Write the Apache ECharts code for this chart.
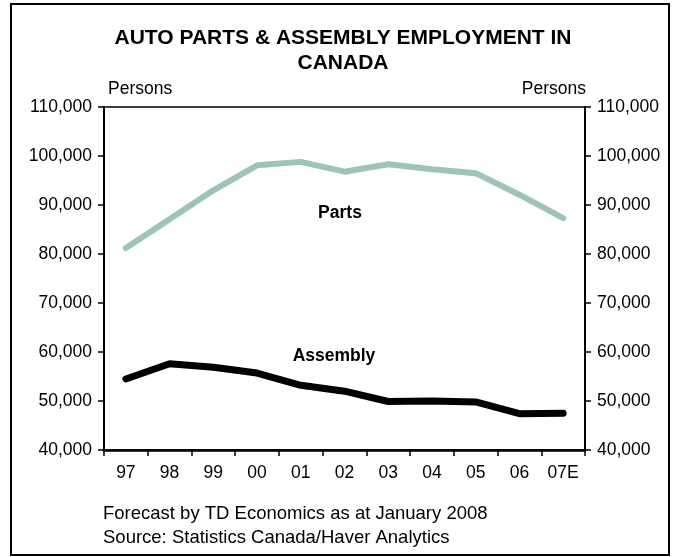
<!DOCTYPE html>
<html>
<head>
<meta charset="utf-8">
<script src="https://cdn.jsdelivr.net/npm/echarts@6/dist/echarts.min.js"></script>
<style>
html,body{margin:0;padding:0;background:#fff;}
#c{width:680px;height:557px;}
</style>
</head>
<body>
<div id="c"></div>
<script>
var categories = ['97','98','99','00','01','02','03','04','05','06','07E'];
var parts = [81200, 87100, 93000, 98100, 98800, 96800, 98300, 97300, 96500, 92100, 87300];
var assembly = [54500, 57600, 56900, 55700, 53200, 52000, 49900, 50000, 49800, 47400, 47500];
var yTicks = [40000, 110000, 10000];
var titleLines = ['AUTO PARTS & ASSEMBLY EMPLOYMENT IN', 'CANADA'];
var footer = ['Forecast by TD Economics as at January 2008', 'Source: Statistics Canada/Haver Analytics'];

var FONT = 'Liberation Sans, Arial, sans-serif';
function fmt(v){ return String(v).replace(/\B(?=(\d{3})+(?!\d))/g, ','); }

var chart = echarts.init(document.getElementById('c'), null, {renderer:'canvas'});
var yBase = {
  type: 'value', min: yTicks[0], max: yTicks[1], interval: yTicks[2],
  axisLine: {show: true, lineStyle: {color: '#000', width: 2}},
  axisTick: {show: true, inside: false, length: 6, lineStyle: {color: '#000', width: 1.5}},
  axisLabel: {formatter: fmt, color: '#000', fontFamily: FONT, fontSize: 17.5, margin: 12},
  splitLine: {show: false}
};
chart.setOption({
  animation: false,
  backgroundColor: '#fff',
  grid: {left: 104, right: 95, top: 107, bottom: 107, show: true, borderColor: '#000', borderWidth: 1.5, containLabel: false},
  xAxis: {
    type: 'category', data: categories, boundaryGap: true,
    axisLine: {lineStyle: {color: '#000', width: 2.5}},
    axisTick: {show: true, length: 6, lineStyle: {color: '#000', width: 1.5}},
    axisLabel: {color: '#000', fontFamily: FONT, fontSize: 17.5, margin: 14}
  },
  yAxis: [
    Object.assign({}, yBase, {position: 'left'}),
    Object.assign({}, yBase, {position: 'right'})
  ],
  series: [
    {type: 'line', name: 'Parts', data: parts, yAxisIndex: 0, symbol: 'none',
     lineStyle: {color: '#9dc4bb', width: 6, cap: 'round', join: 'round'}},
    {type: 'line', name: 'Assembly', data: assembly, yAxisIndex: 0, symbol: 'none',
     lineStyle: {color: '#000', width: 7, cap: 'round', join: 'round'}}
  ],
  graphic: [
    {type: 'rect', shape: {x: 11, y: 4, width: 658, height: 551}, style: {fill: 'none', stroke: '#000', lineWidth: 2}, silent: true},
    {type: 'text', x: 343, y: 38, style: {text: titleLines[0], font: 'bold 21px ' + FONT, fill: '#000', align: 'center', verticalAlign: 'middle'}},
    {type: 'text', x: 343, y: 63, style: {text: titleLines[1], font: 'bold 21px ' + FONT, fill: '#000', align: 'center', verticalAlign: 'middle'}},
    {type: 'text', x: 108, y: 89, style: {text: 'Persons', font: '17.5px ' + FONT, fill: '#000', align: 'left', verticalAlign: 'middle'}},
    {type: 'text', x: 586, y: 89, style: {text: 'Persons', font: '17.5px ' + FONT, fill: '#000', align: 'right', verticalAlign: 'middle'}},
    {type: 'text', x: 340, y: 213, style: {text: 'Parts', font: 'bold 17.5px ' + FONT, fill: '#000', align: 'center', verticalAlign: 'middle'}},
    {type: 'text', x: 334, y: 356, style: {text: 'Assembly', font: 'bold 17.5px ' + FONT, fill: '#000', align: 'center', verticalAlign: 'middle'}},
    {type: 'text', x: 103, y: 514, style: {text: footer[0], font: '18.5px ' + FONT, fill: '#000', align: 'left', verticalAlign: 'middle'}},
    {type: 'text', x: 103, y: 538, style: {text: footer[1], font: '18.5px ' + FONT, fill: '#000', align: 'left', verticalAlign: 'middle'}}
  ]
});
</script>
</body>
</html>
